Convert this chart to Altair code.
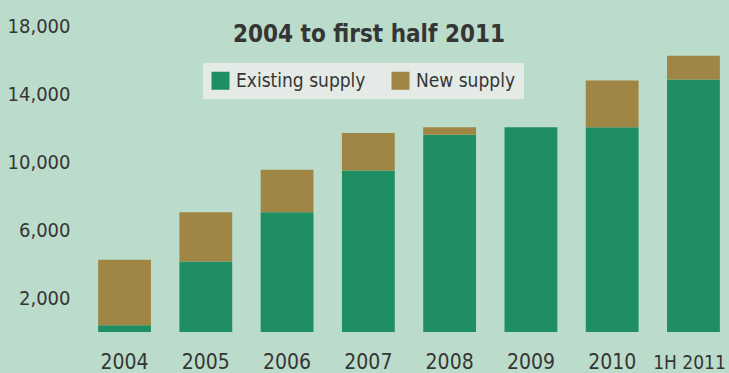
import altair as alt
import pandas as pd

years = ["2004", "2005", "2006", "2007", "2008", "2009", "2010", "1H 2011"]
existing = [400, 4150, 7050, 9500, 11600, 12050, 12050, 14850]
new = [3850, 2900, 2500, 2200, 450, 0, 2750, 1400]
series = ["Existing supply", "New supply"]
y_ticks = [2000, 6000, 10000, 14000, 18000]
title_text = "2004 to first half 2011"

rows = []
for i, yr in enumerate(years):
    rows.append({"year": yr, "series": series[0], "value": existing[i], "ord": 0})
    rows.append({"year": yr, "series": series[1], "value": new[i], "ord": 1})
df = pd.DataFrame(rows)

FONT = "DejaVu Sans Condensed"
GREEN = "#1f8e62"
BROWN = "#9f8644"
BG = "#bcdccb"
TXT = "#353535"
LAST = years[-1]

bars = alt.Chart(df).mark_bar().encode(
    x=alt.X(
        "year:N",
        sort=years,
        scale=alt.Scale(paddingInner=0.35, paddingOuter=0.1),
        axis=alt.Axis(
            title=None, labelAngle=0, domain=False, ticks=False, tickSize=0,
            labelFont=FONT, labelColor=TXT,
            labelFontSize={"condition": {"test": f"datum.value == '{LAST}'", "value": 19}, "value": 21},
            labelOffset={"condition": {"test": f"datum.value == '{LAST}'", "value": -4}, "value": 0},
            labelPadding=36, labelBaseline="alphabetic",
        ),
    ),
    y=alt.Y(
        "value:Q",
        stack="zero",
        scale=alt.Scale(domain=[0, 18000], nice=False),
        axis=alt.Axis(
            title=None, values=y_ticks, format=",.0f", domain=False, ticks=False,
            tickSize=0, grid=False, labelFont=FONT, labelFontSize=20,
            labelColor=TXT, labelPadding=20,
        ),
    ),
    color=alt.Color(
        "series:N",
        scale=alt.Scale(domain=series, range=[GREEN, BROWN]),
        legend=alt.Legend(
            title=None, orient="none", legendX=113, legendY=37,
            direction="horizontal", fillColor="#e4eae5", padding=8,
            symbolType="square", symbolSize=324, symbolStrokeWidth=0,
            symbolOpacity=1, labelFont=FONT, labelFontSize=19,
            labelColor=TXT, labelOffset=6, columnPadding=25,
        ),
    ),
    order=alt.Order("ord:Q"),
)

title_df = pd.DataFrame({"t": [title_text]})
title = alt.Chart(title_df).mark_text(
    font=FONT, fontSize=24, fontWeight="bold", color=TXT,
    align="center", baseline="alphabetic",
).encode(text="t:N", x=alt.value(279), y=alt.value(16))

chart = alt.layer(bars, title).properties(
    width=638,
    height=306,
    autosize=alt.AutoSizeParams(type="none"),
    padding={"left": 90, "top": 26, "right": 1, "bottom": 41},
    background=BG,
).configure_view(stroke=None)

chart.save("out.html", embed_options={"renderer": "svg", "actions": False})
